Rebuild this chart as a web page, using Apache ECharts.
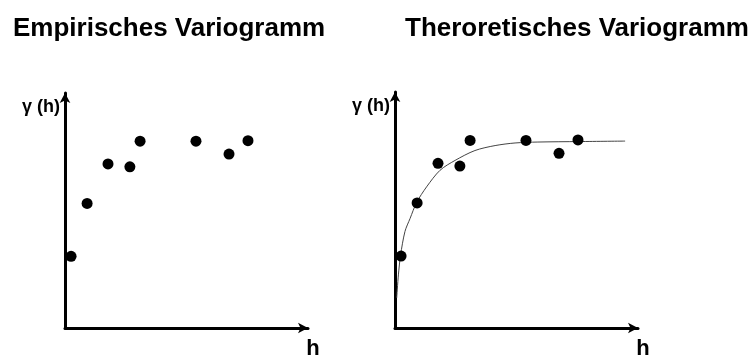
<!DOCTYPE html>
<html>
<head>
<meta charset="utf-8">
<script src="https://cdn.jsdelivr.net/npm/echarts@6/dist/echarts.min.js"></script>
<style>
  html, body { margin: 0; padding: 0; background: #fff; }
  #chart { width: 752px; height: 360px; }
</style>
</head>
<body>
<div id="chart"></div>
<script>
// Lag distances h and semivariance values of the empirical variogram
const lagH = [0.25, 0.91, 1.77, 2.67, 3.09, 5.39, 6.75, 7.53];
const gammaH = [3.05, 5.3, 6.98, 6.86, 7.95, 7.95, 7.4, 7.97];

// Fitted model curve (theoretical variogram)
const modelH = [0.07, 0.14, 0.23, 0.41, 0.62, 0.89, 1.30, 1.85, 2.47, 3.29, 4.12, 4.94, 5.88, 7.61, 9.47];
const modelGamma = [1.27, 2.25, 3.09, 4.09, 4.64, 5.32, 5.98, 6.68, 7.10, 7.52, 7.73, 7.84, 7.88, 7.90, 7.92];

const titles = ['Empirisches Variogramm', 'Theroretisches Variogramm'];
const axisNameX = 'h';
const axisNameY = 'γ (h)';

const FONT = '"Liberation Sans", Arial, sans-serif';

function makeXAxis(gridIndex) {
  return {
    type: 'value', gridIndex, min: 0, max: 10,
    name: axisNameX, nameLocation: 'end', nameGap: 5,
    nameTextStyle: { fontFamily: FONT, fontSize: 22, fontWeight: 'bold', color: '#000',
      align: 'center', verticalAlign: 'top', padding: [10, 0, 0, 0] },
    axisLine: { show: true, onZero: false, symbol: ['none', 'arrow'], symbolSize: [8, 10],
      lineStyle: { color: '#000', width: 3 } },
    axisTick: { show: false }, axisLabel: { show: false }, splitLine: { show: false }
  };
}
function makeYAxis(gridIndex) {
  return {
    type: 'value', gridIndex, min: 0, max: 10,
    name: axisNameY, nameLocation: 'end', nameGap: -14,
    nameTextStyle: { fontFamily: FONT, fontSize: 18, fontWeight: 'bold', color: '#000',
      align: 'right', verticalAlign: 'middle', padding: [0, 5, 0, 0] },
    axisLine: { show: true, onZero: false, symbol: ['none', 'arrow'], symbolSize: [8, 10],
      lineStyle: { color: '#000', width: 3 } },
    axisTick: { show: false }, axisLabel: { show: false }, splitLine: { show: false }
  };
}

const pointsData = lagH.map((h, i) => [h, gammaH[i]]);
const modelData = modelH.map((h, i) => [h, modelGamma[i]]);

const titleStyle = { fontFamily: FONT, fontSize: 26, fontWeight: 'bold', color: '#000' };

const chart = echarts.init(document.getElementById('chart'));
chart.setOption({
  backgroundColor: '#fff',
  animation: false,
  title: [
    { text: titles[0], left: 13, top: 16, padding: 0, textStyle: titleStyle },
    { text: titles[1], left: 405, top: 16, padding: 0, textStyle: titleStyle }
  ],
  grid: [
    { left: 65, top: 93, width: 243, height: 238 },
    { left: 395, top: 92, width: 243, height: 238 }
  ],
  xAxis: [makeXAxis(0), makeXAxis(1)],
  yAxis: [makeYAxis(0), makeYAxis(1)],
  series: [
    { type: 'scatter', xAxisIndex: 0, yAxisIndex: 0, data: pointsData,
      symbolSize: 11, itemStyle: { color: '#000', opacity: 1 } },
    { type: 'line', xAxisIndex: 1, yAxisIndex: 1, data: modelData, smooth: 0.3,
      showSymbol: false, lineStyle: { color: '#444', width: 1 }, z: 1 },
    { type: 'scatter', xAxisIndex: 1, yAxisIndex: 1, data: pointsData,
      symbolSize: 11, itemStyle: { color: '#000', opacity: 1 }, z: 3 }
  ]
});
</script>
</body>
</html>
